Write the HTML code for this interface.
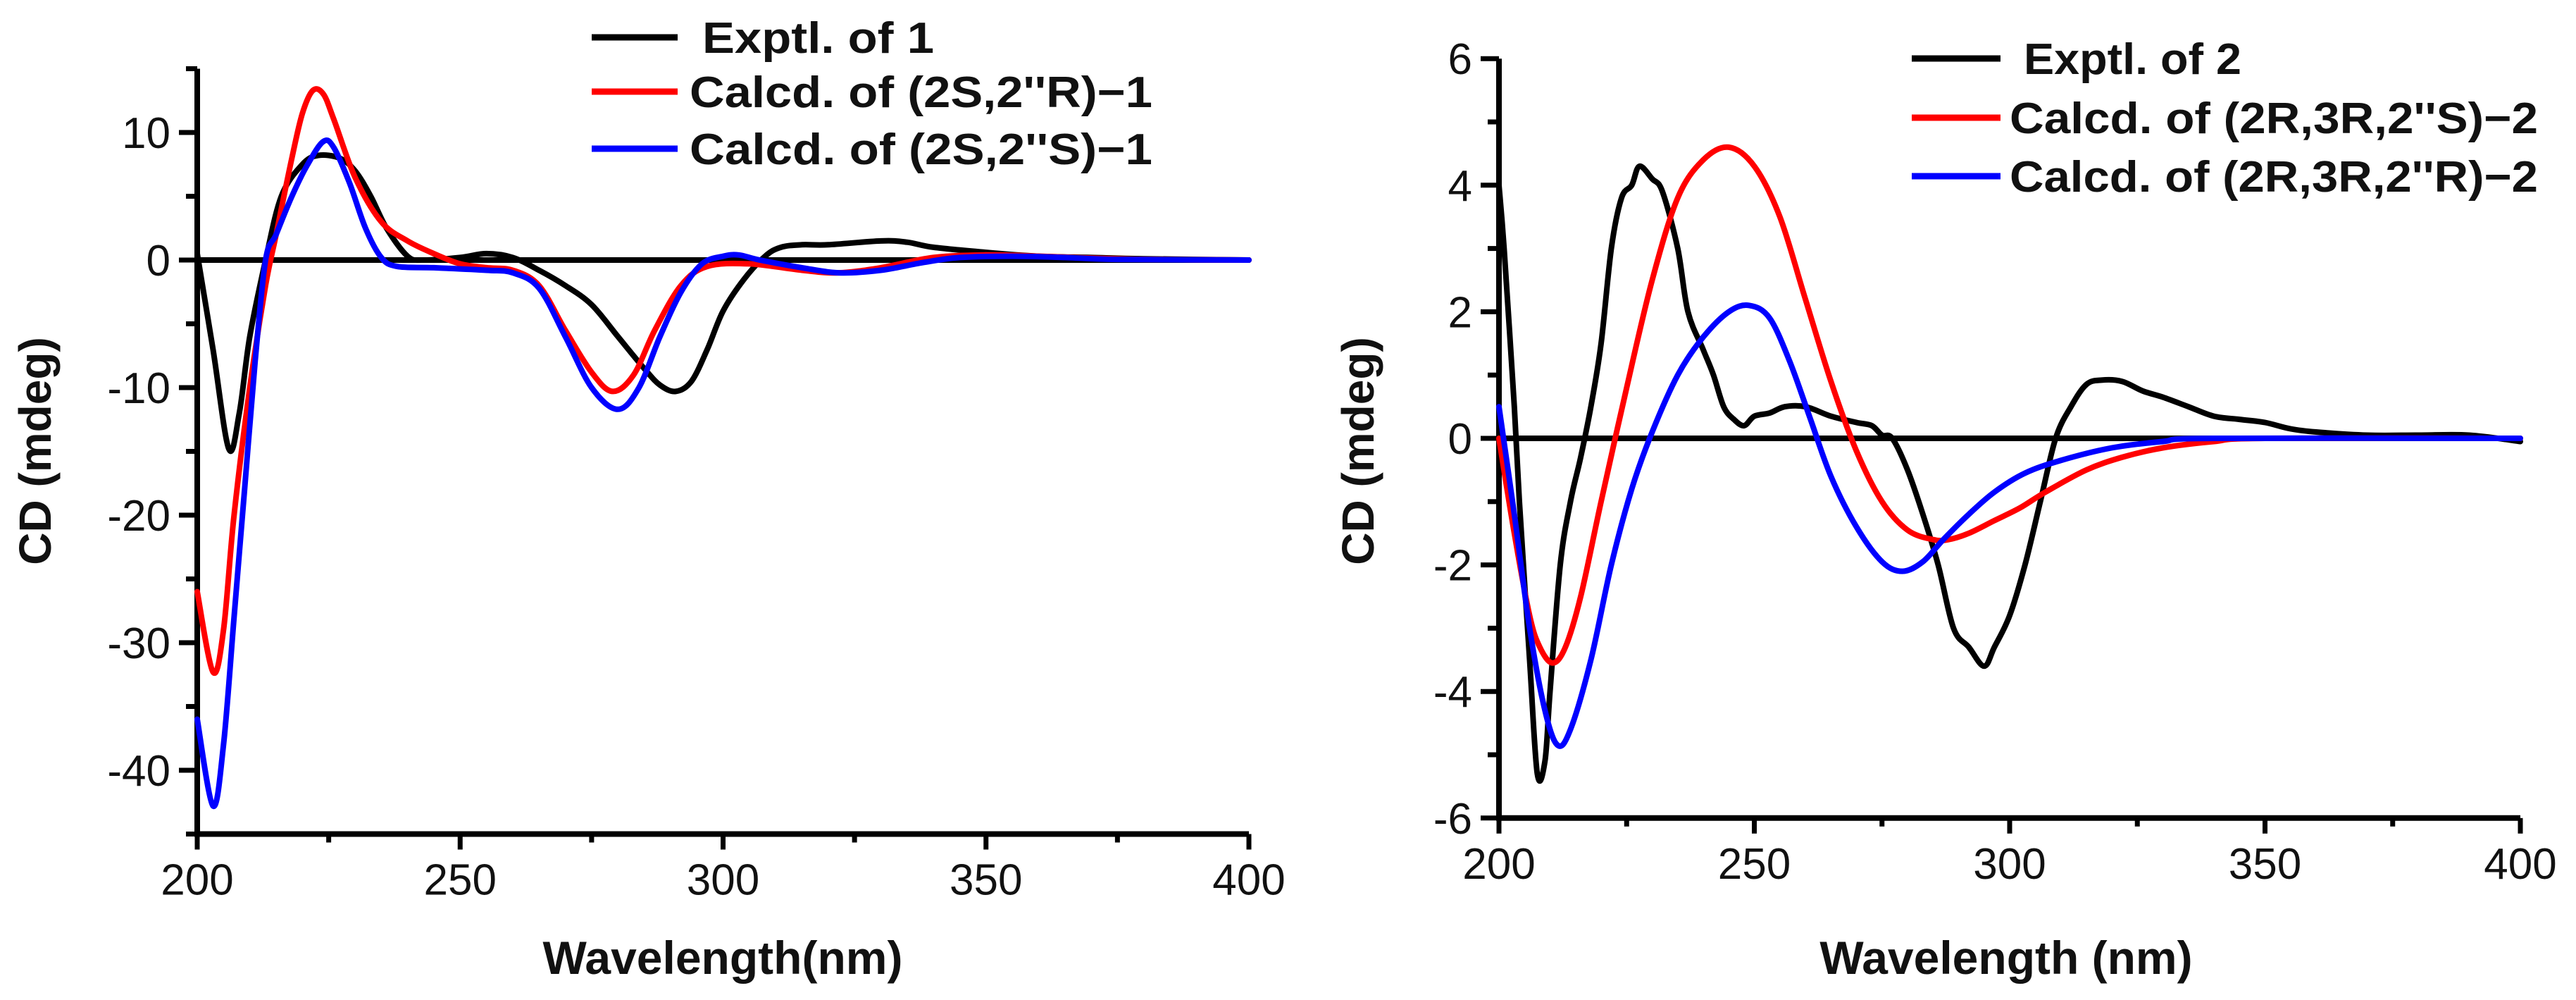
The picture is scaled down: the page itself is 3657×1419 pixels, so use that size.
<!DOCTYPE html>
<html><head><meta charset="utf-8"><style>
html,body{margin:0;padding:0;background:#fff;}
svg{display:block;font-family:"Liberation Sans",Arial,sans-serif;}
</style></head><body>
<svg id="chart" width="3657" height="1419" viewBox="0 0 3657 1419" xmlns="http://www.w3.org/2000/svg"></svg>
<script>
// ---------- Panel 1 data ----------
const exp1X = [200,203,206,208,210,213,216,220,223,227,230,233,236,240,243,250,255,260,265,270,275,280,285,288,291,294,297,300,304,308,311,315,320,330,335,340,350,360,370,380,400];
const exp1Y = [0.5,-7,-14.8,-12,-6,0,5,7.5,8.2,8.0,7,5,2.5,0.3,0,0.2,0.5,0.2,-0.8,-2,-3.5,-6,-8.5,-9.8,-10.3,-9.5,-7,-4,-1.5,0.3,1,1.2,1.2,1.5,1.4,1.0,0.6,0.3,0.2,0.1,0];
const calcR1X = [200,203,205,207,210,213,215,218,220,222,224,226,230,235,240,245,250,255,260,265,270,275,279,283,287,292,297,305,315,322,330,340,350,360,370,380,400];
const calcR1Y = [-26,-32.3,-29,-20,-10,-2,2,8,11.5,13.3,13,11,6.5,3,1.5,0.5,-0.3,-0.6,-0.8,-2,-5.5,-8.8,-10.3,-9,-5.5,-2,-0.5,-0.3,-0.8,-1,-0.6,0.2,0.4,0.3,0.15,0.05,0];
const calcS1X = [200,203,205,207,209,211,213,215,218,221,224,226,229,232,235,238,245,255,260,265,270,275,280,284,288,292,296,300,303,307,315,322,330,338,345,355,365,375,400];
const calcS1Y = [-36,-42.8,-38,-28,-18,-8,0,2,5,7.5,9.3,8.8,6,2.5,0.2,-0.5,-0.6,-0.8,-1,-2.2,-6,-10,-11.7,-10,-6,-2.5,-0.3,0.3,0.4,0,-0.6,-1,-0.8,-0.2,0.2,0.3,0.2,0.05,0];
const p1YTicks = [-40,-30,-20,-10,0,10];
const p1YTickLabels = ["-40","-30","-20","-10","0","10"];
const xTicks = [200,250,300,350,400];
const xTickLabels = ["200","250","300","350","400"];

// ---------- Panel 2 data ----------
const exp2X = [200,201,203,204,206,207.5,209,210,212,214,216,218,220,222,224,226,227.5,230,232,235,237,240,242,244,246,248,250,253,256,260,265,270,273,275,277,280,283,286,289,292,295,297,300,303,306,309,312,315,318,322,326,330,335,340,345,350,355,360,370,380,390,400];
const exp2Y = [4,3,0.5,-1,-3.5,-5.3,-5.1,-4,-2,-1,-0.3,0.5,1.5,3,3.8,4,4.3,4.1,3.9,3.0,2,1.4,1.0,0.5,0.3,0.2,0.35,0.4,0.5,0.5,0.35,0.25,0.2,0.05,0,-0.5,-1.2,-2,-3,-3.3,-3.6,-3.3,-2.8,-2,-1,0,0.5,0.85,0.92,0.9,0.75,0.65,0.5,0.35,0.3,0.25,0.15,0.1,0.05,0.05,0.05,-0.05];
const calcS2X = [200,203,206,208,210.5,213,216,220,225,230,235,240,245,250,255,260,265,270,275,280,285,288,292,297,302,307,315,322,330,340,350,400];
const calcS2Y = [0,-1.5,-2.8,-3.3,-3.55,-3.3,-2.5,-1,0.8,2.5,3.8,4.4,4.6,4.3,3.5,2.2,0.9,-0.2,-1.0,-1.45,-1.6,-1.6,-1.5,-1.3,-1.1,-0.85,-0.5,-0.3,-0.15,-0.05,0,0];
const calcR2X = [200,203,206,209,211.5,214,218,222,226,230,235,240,245,249,253,257,261,265,270,275,279,283,287,292,297,303,310,320,330,340,400];
const calcR2Y = [0.5,-1.2,-3,-4.3,-4.85,-4.6,-3.5,-2,-0.8,0.1,1.0,1.6,2.0,2.1,1.9,1.2,0.3,-0.6,-1.4,-1.95,-2.1,-1.95,-1.6,-1.2,-0.85,-0.55,-0.35,-0.15,-0.05,0,0];
const p2YTicks = [-6,-4,-2,0,2,4,6];
const p2YTickLabels = ["-6","-4","-2","0","2","4","6"];

const NS = "http://www.w3.org/2000/svg";
const svg = document.getElementById('chart');
function mk(tag, attrs, parent){ const e=document.createElementNS(NS,tag); for(const k in attrs) e.setAttribute(k,attrs[k]); (parent||svg).appendChild(e); return e; }

function smoothPath(P){
  let d = `M${P[0][0].toFixed(1)},${P[0][1].toFixed(1)}`;
  for(let i=0;i<P.length-1;i++){
    const p0=P[Math.max(0,i-1)], p1=P[i], p2=P[i+1], p3=P[Math.min(P.length-1,i+2)];
    const c1x=p1[0]+(p2[0]-p0[0])/6, c1y=p1[1]+(p2[1]-p0[1])/6;
    const c2x=p2[0]-(p3[0]-p1[0])/6, c2y=p2[1]-(p3[1]-p1[1])/6;
    d += ` C${c1x.toFixed(1)},${c1y.toFixed(1)} ${c2x.toFixed(1)},${c2y.toFixed(1)} ${p2[0].toFixed(1)},${p2[1].toFixed(1)}`;
  }
  return d;
}

function panel(cfg){
  const g = mk('g',{});
  
  
  const sx = v => cfg.x0 + (v-200)/200*(cfg.x1-cfg.x0);
  const sy = v => cfg.yZero - v*cfg.unit;
  const yTop = sy(cfg.yMax), yBot = sy(cfg.yMin);
  for(let v=cfg.yMin; v<=cfg.yMax+1e-9; v+=cfg.yMinor){
    const major = Math.abs((v/cfg.yMajor)-Math.round(v/cfg.yMajor))<1e-6;
    const t = mk('line',{x1:cfg.x0-(major?26:16),x2:cfg.x0,y1:sy(v),y2:sy(v),stroke:'#000','stroke-width':7},g);
    
    
  }
  cfg.yTicks.forEach((v,i)=>{
    const t = mk('text',{x:cfg.x0-38,y:sy(v)+22,'text-anchor':'end','font-size':62,fill:'#111'},g);
    t.textContent = cfg.yLabels[i];
    
    
  });
  for(let v=200; v<=400; v+=25){
    const major = v%50===0;
    const t = mk('line',{x1:sx(v),x2:sx(v),y1:yBot,y2:yBot+(major?22:12),stroke:'#000','stroke-width':7},g);
    
    
  }
  xTicks.forEach((v,i)=>{
    const t = mk('text',{x:sx(v),y:yBot+cfg.xLabelDy,'text-anchor':'middle','font-size':62,fill:'#111'},g);
    t.textContent = xTickLabels[i];
    
    
  });
  const ax = mk('path',{d:`M${cfg.x0},${yTop} V${yBot} H${cfg.x1}`,fill:'none',stroke:'#000','stroke-width':8},g);
  
  
  const zl = mk('line',{x1:cfg.x0,x2:cfg.x1,y1:sy(0),y2:sy(0),stroke:'#000','stroke-width':8},g);
  
  
  cfg.series.forEach(s=>{
    const P = s.x.map((xv,i)=>[sx(xv), sy(s.y[i])]);
    const p = mk('path',{d:smoothPath(P),fill:'none',stroke:s.color,'stroke-width':8,'stroke-linejoin':'round','stroke-linecap':'round'},g);
    
    
  });
  cfg.legend.forEach((l,i)=>{
    const ln = mk('line',{x1:cfg.legX0,x2:cfg.legX1,y1:l.cy,y2:l.cy,stroke:l.color,'stroke-width':9},g);
    
    
    const t = mk('text',{x:l.tx,y:l.cy+22,'font-size':62,'font-weight':'bold',fill:'#111',textLength:l.w,lengthAdjust:'spacingAndGlyphs'},g);
    t.textContent = l.text;
    
    
  });
  const yt = mk('text',{x:0,y:0,'font-size':64,'font-weight':'bold',fill:'#111','text-anchor':'middle',transform:`translate(${cfg.yTitleX},${cfg.yTitleY}) rotate(-90)`},g);
  yt.textContent = 'CD (mdeg)';
  
  
  const xt = mk('text',{x:cfg.xTitleX,y:1382,'font-size':66,'font-weight':'bold',fill:'#111','text-anchor':'middle'},g);
  xt.textContent = cfg.xTitle;
  
  
}

panel({name:'panel-compound-1',x0:280,x1:1773,yZero:369,unit:18.1,yMin:-45,yMax:15,yMajor:10,yMinor:5,
  yTicks:p1YTicks,yLabels:p1YTickLabels,xLabelDy:86,
  series:[{name:'exptl-1-line',x:exp1X,y:exp1Y,color:'#000'},{name:'calcd-2S-2R-line',x:calcR1X,y:calcR1Y,color:'#ff0000'},{name:'calcd-2S-2S-line',x:calcS1X,y:calcS1Y,color:'#0000ff'}],
  legX0:840,legX1:962,
  legend:[{text:'Exptl.  of 1',color:'#000',cy:53,tx:997,w:329},{text:"Calcd.  of (2S,2''R)\u22121",color:'#ff0000',cy:130,tx:979,w:657},{text:"Calcd.  of (2S,2''S)\u22121",color:'#0000ff',cy:211,tx:979,w:657}],
  yTitleX:72,yTitleY:640,xTitleX:1026,xTitle:'Wavelength(nm)'});

panel({name:'panel-compound-2',x0:2128,x1:3578,yZero:622,unit:89.8,yMin:-6,yMax:6,yMajor:2,yMinor:1,
  yTicks:p2YTicks,yLabels:p2YTickLabels,xLabelDy:86,
  series:[{name:'exptl-2-line',x:exp2X,y:exp2Y,color:'#000'},{name:'calcd-2R3R2S-line',x:calcS2X,y:calcS2Y,color:'#ff0000'},{name:'calcd-2R3R2R-line',x:calcR2X,y:calcR2Y,color:'#0000ff'}],
  legX0:2714,legX1:2840,
  legend:[{text:'Exptl. of 2',color:'#000',cy:83,tx:2873,w:309},{text:"Calcd. of (2R,3R,2''S)\u22122",color:'#ff0000',cy:167,tx:2853,w:750},{text:"Calcd. of (2R,3R,2''R)\u22122",color:'#0000ff',cy:250,tx:2853,w:750}],
  yTitleX:1950,yTitleY:640,xTitleX:2848,xTitle:'Wavelength (nm)'});
</script>
</body></html>
